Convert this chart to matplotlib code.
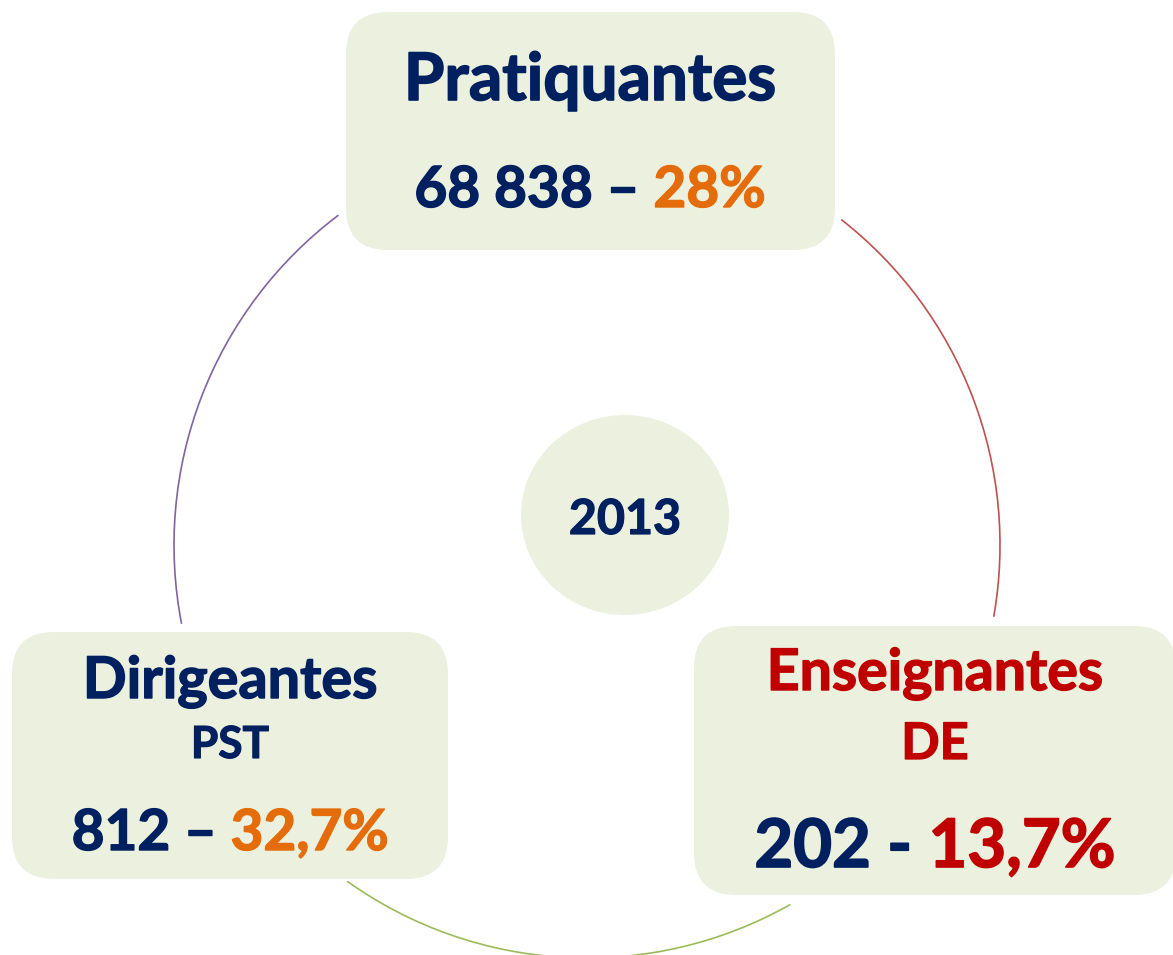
import matplotlib
matplotlib.use("Agg")
import matplotlib.pyplot as plt
import matplotlib.patheffects as pe
from matplotlib.patches import FancyBboxPatch, Ellipse, Arc

# ---- data ----
categories = ["Pratiquantes", "Dirigeantes", "Enseignantes"]
subtitles = ["", "PST", "DE"]
counts = ["68 838", "812", "202"]
separators = ["–", "–", "-"]
percents = ["28%", "32,7%", "13,7%"]
year = "2013"

# ---- style ----
NAVY = "#002060"
ORANGE = "#E46C0A"
RED = "#C00000"
FILL = "#EBF1DE"
FONT = ["Lato", "DejaVu Sans"]
CAP = 0.7165  # Lato cap height / em

W, H = 1173, 955
fig = plt.figure(figsize=(W / 100, H / 100), dpi=100)
ax = fig.add_axes([0, 0, 1, 1])
ax.set_xlim(0, W)
ax.set_ylim(H, 0)
ax.axis("off")
renderer = fig.canvas.get_renderer()

# ---- arcs of the big circle ----
cx, cy, r = 587, 545, 413
arc_specs = [(169, 233, "#8064A2"), (-52, 10, "#C0504D"), (60.5, 125.5, "#9BBB59")]
for t1, t2, col in arc_specs:
    ax.add_patch(Arc((cx, cy), 2 * r, 2 * r, theta1=t1, theta2=t2,
                     color=col, lw=1.2, zorder=1))

# ---- boxes ----
boxes = [(346, 12, 489, 238), (12, 632, 436, 247), (694, 626, 482, 269)]
for (x, y, w, h) in boxes:
    ax.add_patch(FancyBboxPatch((x, y), w, h,
                                boxstyle="round,pad=0,rounding_size=42",
                                fc=FILL, ec="none", zorder=2))

ax.add_patch(Ellipse((625, 515), 208, 200, fc=FILL, ec="none", zorder=2))


def measure(s, size):
    t = ax.text(0, 0, s, fontsize=size, fontweight="bold", family=FONT)
    w = t.get_window_extent(renderer).width
    t.remove()
    return w


def fitted_size(s, target_w, cap_px):
    size_w = 40 * target_w / measure(s, 40)
    size_h = cap_px / CAP * 0.72
    return (size_w * size_h) ** 0.5


def draw(x, y, s, size, color, ha):
    ax.text(x, y, s, fontsize=size, fontweight="bold", family=FONT,
            color=color, ha=ha, va="baseline", zorder=3,
            path_effects=[pe.withStroke(linewidth=size / 40, foreground=color)])


def line(parts, cxl, base, target_w, cap_px):
    full = "".join(p for p, _ in parts)
    size = fitted_size(full, target_w, cap_px)
    wf = measure(full, size)
    left = cxl - wf / 2
    if len(parts) == 1:
        draw(cxl, base, full, size, parts[0][1], "center")
    else:
        draw(left, base, parts[0][0], size, parts[0][1], "left")
        draw(left + wf, base, parts[1][0], size, parts[1][1], "right")


title_colors = [NAVY, NAVY, RED]
pct_colors = [ORANGE, ORANGE, RED]
# layout: centre x, (baseline, width, cap height) for title / subtitle / value
layout = [
    (590, (100, 389, 45), None, (207, 348, 41)),
    (230, (698, 296, 41), (758, 75, 33), (850, 306, 42)),
    (935, (690, 345, 40), (759, 66, 37), (867, 353, 49)),
]
for i, (lx, tl, sl, vl) in enumerate(layout):
    line([(categories[i], title_colors[i])], lx, *tl)
    if subtitles[i]:
        line([(subtitles[i], title_colors[i])], lx, *sl)
    line([(f"{counts[i]} {separators[i]} ", NAVY), (percents[i], pct_colors[i])],
         lx, *vl)

line([(year, NAVY)], 625, 534, 105, 37)

fig.savefig("out.png", dpi=100, facecolor="white")
